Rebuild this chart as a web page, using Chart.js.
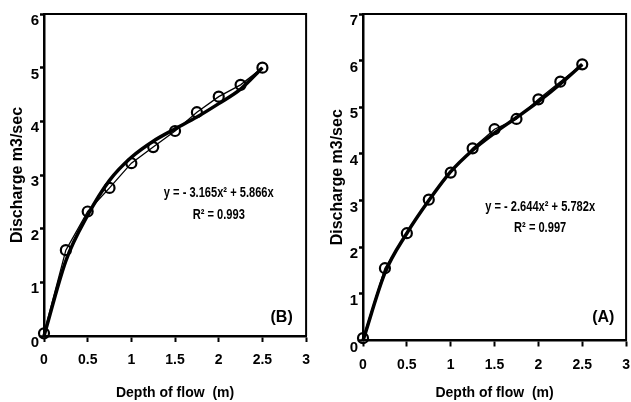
<!DOCTYPE html>
<html>
<head>
<meta charset="utf-8">
<script src="https://cdn.jsdelivr.net/npm/chart.js@4"></script>
<style>
html, body { margin: 0; padding: 0; background: #fff; overflow: hidden; width: 631px; height: 402px; }
canvas { position: absolute; top: 0; }
#grafB { left: 0; }
#grafA { left: 320px; }
</style>
</head>
<body>
<canvas id="grafB" width="320" height="402"></canvas>
<canvas id="grafA" width="320" height="402"></canvas>
<script>
// profundidad (m) y caudal (m3/sec)
const profundidad = [0, 0.25, 0.5, 0.75, 1.0, 1.25, 1.5, 1.75, 2.0, 2.25, 2.5]
const caudalB    = [0.05, 1.6, 2.32, 2.76, 3.22, 3.52, 3.82, 4.17, 4.46, 4.68, 5.0]
const tendenciaB = [0, 1.4, 2.25, 2.9, 3.33, 3.63, 3.86, 4.08, 4.33, 4.6, 5.0]
const caudalA    = [0.05, 1.55, 2.3, 3.02, 3.6, 4.12, 4.53, 4.75, 5.17, 5.55, 5.92]
const tendenciaA = [0, 1.45, 2.3, 3.0, 3.62, 4.08, 4.45, 4.78, 5.12, 5.5, 5.92]

const ticksX  = [0, 0.5, 1, 1.5, 2, 2.5, 3]
const ticksYB = [0, 1, 2, 3, 4, 5, 6]
const ticksYA = [0, 1, 2, 3, 4, 5, 6, 7]

const textosB = ["y = - 3.165x² + 5.866x", "R² = 0.993", "(B)"]
const textosA = ["y = - 2.644x² + 5.782x", "R² = 0.997", "(A)"]

const tituloX = "Depth of flow  (m)"
const tituloY = "Discharge m3/sec"

const familia = "'Liberation Sans', Arial, sans-serif"

const marco = {
    id: 'marco',
    afterDatasetsDraw(chart, args, opts) {
        const {ctx, chartArea: a, scales: {x, y}} = chart
        ctx.save()
        ctx.strokeStyle = '#000'
        ctx.lineWidth = 2
        ctx.beginPath()
        ctx.moveTo(a.left, a.top)
        ctx.lineTo(a.right, a.top)
        ctx.lineTo(a.right, a.bottom)
        ctx.stroke()
        ctx.fillStyle = '#000'
        ctx.textAlign = 'center'
        ctx.textBaseline = 'middle'
        opts.textos.forEach(t => {
            ctx.save()
            ctx.translate(x.getPixelForValue(t.x), y.getPixelForValue(t.y))
            ctx.scale(t.escala, 1)
            ctx.font = 'bold ' + t.size + 'px ' + familia
            ctx.fillText(t.texto, 0, 0)
            ctx.restore()
        })
        ctx.restore()
    }
}

const puntos = (valores) => profundidad.map((d, i) => ({x: d, y: valores[i]}))

const generarGrafica = (id, caudal, tendencia, ticksY, textos, conf) => {
    const ctx = document.getElementById(id).getContext('2d')
    new Chart(ctx, {
        type: 'line',
        data: {
            datasets: [{
                data: puntos(tendencia),
                borderColor: '#000',
                borderWidth: 3.5,
                cubicInterpolationMode: 'monotone',
                pointRadius: 0,
                fill: false,
                clip: false
            }, {
                data: puntos(caudal),
                borderColor: '#000',
                borderWidth: 1.3,
                tension: 0,
                pointRadius: 5,
                pointBorderWidth: 2.2,
                pointBorderColor: '#000',
                pointBackgroundColor: 'rgba(255,255,255,0)',
                fill: false,
                clip: false
            }]
        },
        options: {
            responsive: false,
            animation: false,
            devicePixelRatio: 1,
            layout: { padding: { left: 0, right: conf.derecha, top: 14, bottom: 0 } },
            plugins: {
                legend: { display: false },
                tooltip: { enabled: false },
                marco: { textos: textos }
            },
            scales: {
                x: {
                    type: 'linear',
                    min: 0, max: 3,
                    afterBuildTicks: s => { s.ticks = ticksX.map(v => ({value: v})) },
                    afterFit: s => { s.height = conf.altoX },
                    grid: { drawOnChartArea: false, tickLength: 6, tickWidth: 2, tickColor: '#000' },
                    border: { color: '#000', width: 2.5 },
                    ticks: { color: '#000', padding: 10, callback: v => String(v),
                             font: { size: 14, weight: 'bold', family: familia } },
                    title: { display: true, text: tituloX, color: '#000', padding: { top: 0, bottom: 0 },
                             font: { size: 14, weight: 'bold', family: familia } }
                },
                y: {
                    type: 'linear',
                    min: 0, max: ticksY[ticksY.length - 1],
                    afterBuildTicks: s => { s.ticks = ticksY.map(v => ({value: v})) },
                    afterFit: s => { s.width = conf.anchoY },
                    grid: { drawOnChartArea: false, tickLength: 4, tickWidth: 2.5, tickColor: '#000' },
                    border: { color: '#000', width: 2.5 },
                    ticks: { color: '#000', padding: 1, labelOffset: 7, callback: v => String(v),
                             font: { size: 15, weight: 'bold', family: familia } },
                    title: { display: true, text: tituloY, color: '#000', padding: { top: 8, bottom: 0 },
                             font: { size: 16, weight: 'bold', family: familia } }
                }
            }
        },
        plugins: [marco]
    })
}

generarGrafica('grafB', caudalB, tendenciaB, ticksYB, [
    {texto: textosB[0], x: 2.0, y: 2.66, size: 15, escala: 0.74},
    {texto: textosB[1], x: 2.0, y: 2.25, size: 15, escala: 0.74},
    {texto: textosB[2], x: 2.72, y: 0.34, size: 16, escala: 1}
], {derecha: 7, altoX: 66, anchoY: 44})

generarGrafica('grafA', caudalA, tendenciaA, ticksYA, [
    {texto: textosA[0], x: 2.02, y: 2.86, size: 15, escala: 0.74},
    {texto: textosA[1], x: 2.02, y: 2.41, size: 15, escala: 0.74},
    {texto: textosA[2], x: 2.74, y: 0.5, size: 16, escala: 1}
], {derecha: 9.5, altoX: 61.5, anchoY: 43})
</script>
</body>
</html>
